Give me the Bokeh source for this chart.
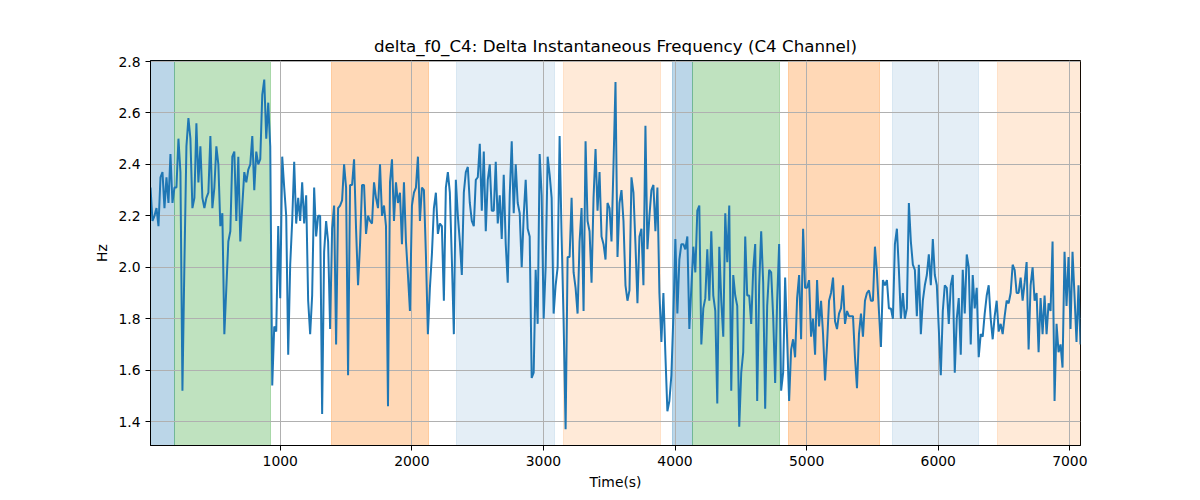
import numpy as np
from bokeh.plotting import figure
from bokeh.models import ColumnDataSource, FixedTicker, Range1d, NumeralTickFormatter
from bokeh.embed import file_html
from bokeh.resources import INLINE

# time axis (seconds), evenly sampled
t_start = 14.0
t_end = 7081.0

# delta f0 of channel C4 (Hz)
delta_f0 = [
    2.31, 2.18, 2.20, 2.23, 2.16, 2.35, 2.37, 2.23, 2.35, 2.25,
    2.44, 2.25, 2.31, 2.31, 2.50, 2.37, 1.52, 2.02, 2.47, 2.58,
    2.50, 2.23, 2.27, 2.56, 2.33, 2.47, 2.27, 2.23, 2.27, 2.29,
    2.51, 2.23, 2.31, 2.47, 2.40, 2.16, 2.21, 1.74, 1.92, 2.10,
    2.14, 2.43, 2.45, 2.18, 2.43, 2.10, 2.24, 2.37, 2.33, 2.38,
    2.40, 2.51, 2.30, 2.45, 2.40, 2.42, 2.67, 2.73, 2.50, 2.64,
    2.47, 1.54, 1.77, 1.75, 2.16, 1.88,
    2.43, 2.31, 2.20, 1.66, 2.01, 2.18, 2.41, 2.17, 2.27, 2.18,
    2.33, 2.17, 2.28, 1.87, 1.74, 1.89, 2.31, 2.12, 2.20, 2.20,
    1.43, 2.06, 2.18, 2.10, 1.76, 2.15, 2.24, 1.70, 2.23, 2.24,
    2.26, 2.40, 2.31, 1.58, 2.32, 2.32, 2.42, 2.15, 1.93, 2.09,
    2.32, 2.32, 2.13, 2.20, 2.18, 2.17, 2.33, 2.27, 2.23, 2.40,
    2.20, 2.24, 2.16, 1.46, 2.33, 2.42, 2.18, 2.33, 2.25, 2.29,
    2.09, 2.33, 2.10, 1.97, 1.83,
    2.24, 2.29, 2.31, 2.43, 2.18, 2.31, 2.30, 2.05, 1.74, 1.92,
    2.05, 2.23, 2.29, 2.13, 2.17, 2.16, 1.87, 2.31, 2.37, 2.29,
    2.03, 1.74, 2.34, 2.20, 2.10, 1.97, 2.29, 2.37, 2.39, 2.25,
    2.18, 2.16, 2.34, 2.35, 2.48, 2.22, 2.45, 2.14, 2.34, 2.40,
    2.22, 2.22, 2.41, 2.17, 2.28, 2.11, 2.36, 2.09, 1.94, 2.28,
    2.49, 2.21, 2.40, 2.25, 2.21, 2.00, 2.20, 2.34, 2.15, 2.12,
    1.57, 1.59, 1.99, 1.78, 2.44,
    2.28, 1.80, 2.00, 2.43, 2.36, 2.27, 1.82, 1.93, 2.00, 2.51,
    2.12, 1.79, 1.37, 2.04, 2.04, 2.27, 1.98, 1.92, 1.82, 2.10,
    2.23, 1.83, 2.49, 2.18, 2.14, 1.94, 2.27, 2.46, 2.22, 2.37,
    2.12, 2.09, 2.03, 2.25, 2.23, 2.10, 2.40, 2.72, 2.04, 2.25,
    2.30, 2.18, 1.93, 1.87, 1.91, 2.35, 2.29, 2.09, 1.86, 2.12,
    2.15, 1.93, 2.55, 2.07, 2.20, 2.30, 2.32, 2.14, 2.31, 1.90,
    1.71, 1.90, 1.66, 1.44,
    1.48, 1.58, 1.81, 2.11, 1.82, 2.03, 2.09, 2.09, 2.07, 2.12,
    1.76, 1.92, 2.08, 1.98, 2.22, 2.24, 1.70, 1.84, 1.88, 2.07,
    1.87, 2.14, 1.89, 1.83, 1.47, 2.08, 1.87, 1.73, 2.21, 2.02,
    2.24, 1.52, 1.97, 1.89, 1.85, 1.38, 1.59, 1.67, 2.12, 1.89,
    1.89, 1.78, 1.99, 2.09, 1.48, 1.93, 2.14, 1.94, 1.45, 1.85,
    1.99, 1.98, 1.81, 1.55, 1.87, 2.09, 1.52, 1.59, 1.96, 1.72,
    1.48, 1.68, 1.72, 1.65, 1.88, 1.97,
    1.72, 2.15, 1.92, 1.92, 1.95, 1.73, 1.80, 1.66, 1.95, 1.77,
    1.87, 1.74, 1.56, 1.70, 1.87, 1.90, 1.96, 1.79, 1.76, 1.82,
    1.84, 1.93, 1.78, 1.83, 1.81, 1.81, 1.81, 1.65, 1.53, 1.74,
    1.82, 1.73, 1.87, 1.90, 1.91, 1.87, 1.87, 2.08, 1.98, 1.83,
    1.69, 1.95, 1.93, 1.95, 1.84, 1.84, 1.80, 2.09, 2.15, 1.99,
    1.80, 1.90, 1.80, 1.84, 2.25, 2.10, 2.01, 1.99, 1.81, 2.01,
    1.74, 1.87, 1.93, 1.97, 2.05,
    1.93, 2.11, 1.97, 1.93, 1.76, 1.58, 1.83,
    1.93, 1.92, 1.78, 1.93, 1.97, 1.59, 1.80, 1.88, 1.66, 1.99,
    1.82, 2.05, 2.00, 1.70, 1.97, 1.84, 1.92, 1.65, 1.74, 1.73,
    1.82, 1.89, 1.93, 1.80, 1.72, 1.81, 1.87, 1.75, 1.78, 1.74,
    1.81, 1.87, 1.86, 1.90, 2.01, 1.99, 1.90, 1.90, 1.96, 1.87,
    1.94, 2.02, 1.68, 1.93, 2.00, 1.87, 1.90, 1.67, 1.88, 1.74,
    1.89, 1.74, 1.86, 1.83, 2.10, 1.48, 1.78, 1.67, 1.70, 1.61,
    2.06, 1.85, 2.04, 1.76, 2.06, 1.89, 1.71, 1.93, 1.70,
]
time_s = np.linspace(t_start, t_end, len(delta_f0))

# shaded segments
span_start = [0, 197, 1388, 2338, 3151, 3980, 4134, 4862, 5652, 6450]
span_end = [197, 929, 2123, 3083, 3886, 4134, 4791, 5551, 6306, 7200]
span_color = ["#1f77b4", "#2ca02c", "#ff7f0e", "#1f77b4", "#ff7f0e",
              "#1f77b4", "#2ca02c", "#ff7f0e", "#1f77b4", "#ff7f0e"]
span_alpha = [0.3, 0.3, 0.3, 0.12, 0.16, 0.3, 0.3, 0.3, 0.12, 0.16]

x_ticks = [1000, 2000, 3000, 4000, 5000, 6000, 7000]
y_ticks = [1.4, 1.6, 1.8, 2.0, 2.2, 2.4, 2.6, 2.8]

FONT = "DejaVu Sans"

p = figure(width=1184, height=492, output_backend="svg", toolbar_location=None,
           title="delta_f0_C4: Delta Instantaneous Frequency (C4 Channel)",
           x_range=Range1d(t_start, t_end), y_range=Range1d(1.307, 2.804),
           min_border_left=150, min_border_right=104, min_border_top=60, min_border_bottom=47)

p.title.align = "center"
p.title.text_font = FONT
p.title.text_font_size = "16.7px"
p.title.text_font_style = "normal"
p.title.text_color = "black"

spans = ColumnDataSource(dict(x0=span_start, x1=span_end, color=span_color, alpha=span_alpha))
p.vstrip(x0="x0", x1="x1", source=spans, fill_color="color", fill_alpha="alpha",
         line_color="color", line_alpha="alpha", line_width=1, level="image")

p.line(time_s, delta_f0, line_color="#1f77b4", line_width=2)

p.xaxis.ticker = FixedTicker(ticks=x_ticks)
p.yaxis.ticker = FixedTicker(ticks=y_ticks)
p.yaxis.formatter = NumeralTickFormatter(format="0.0")
p.xaxis.axis_label = "Time(s)"
p.yaxis.axis_label = "Hz"

for ax in (p.xaxis, p.yaxis):
    ax.major_label_text_font = FONT
    ax.major_label_text_font_size = "13.9px"
    ax.major_label_text_color = "black"
    ax.axis_label_text_font = FONT
    ax.axis_label_text_font_size = "13.9px"
    ax.axis_label_text_font_style = "normal"
    ax.axis_label_text_color = "black"
    ax.axis_line_color = "black"
    ax.major_tick_line_color = "black"
    ax.major_tick_out = 5
    ax.major_tick_in = 0
    ax.minor_tick_line_color = None

p.grid.grid_line_color = "#b0b0b0"
p.grid.grid_line_width = 1
p.outline_line_color = "black"
p.outline_line_width = 1
p.outline_line_alpha = 1

open("out.html", "w").write(file_html(p, INLINE))
